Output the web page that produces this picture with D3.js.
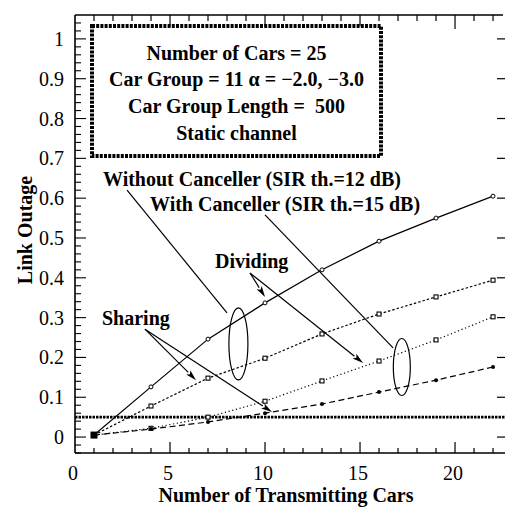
<!DOCTYPE html>
<html><head><meta charset="utf-8">
<script src="https://cdn.jsdelivr.net/npm/d3@7"></script>
<style>html,body{margin:0;padding:0;background:#fff}</style>
</head><body>
<svg id="c" width="505" height="507"></svg>
<script>
// ---- data ----
const xValues = [1, 4, 7, 10, 13, 16, 19, 22];
const withoutSharing = [0.005, 0.126, 0.246, 0.337, 0.42, 0.492, 0.55, 0.605];
const withoutDividing = [0.005, 0.078, 0.148, 0.198, 0.259, 0.309, 0.352, 0.394];
const withDividing = [0.005, 0.022, 0.05, 0.09, 0.141, 0.191, 0.244, 0.302];
const withSharing = [0.005, 0.02, 0.038, 0.06, 0.083, 0.113, 0.143, 0.176];
const threshold = 0.05;
const xTickLabels = [0, 5, 10, 15, 20];
const yTickLabels = [0, 0.1, 0.2, 0.3, 0.4, 0.5, 0.6, 0.7, 0.8, 0.9, 1];
const boxLines = ["Number of Cars = 25", "Car Group = 11 \u03b1 = \u22122.0, \u22123.0", "Car Group Length =\u00a0 500", "Static channel"];

const svg = d3.select("#c");
const L = 75, R = 505, T = 15, B = 453;
const x = d3.scaleLinear().domain([0, 22.63]).range([L, R]);
const y = d3.scaleLinear().domain([-0.04, 1.06]).range([B, T]);
const serif = "'Liberation Serif','Times New Roman',serif";

// frame lines
const g = svg.append("g").attr("stroke", "#000").attr("fill", "none");
g.append("line").attr("x1", L).attr("x2", L).attr("y1", T).attr("y2", B).attr("stroke-width", 1.6);
g.append("line").attr("x1", L).attr("x2", R).attr("y1", B).attr("y2", B).attr("stroke-width", 1.6);
g.append("line").attr("x1", L).attr("x2", R - 2).attr("y1", T).attr("y2", T).attr("stroke-width", 1.6);

// ticks
const xMinor = d3.range(1, 23);
xMinor.forEach(v => {
  const major = v % 5 === 0;
  g.append("line").attr("x1", x(v)).attr("x2", x(v)).attr("y1", B).attr("y2", B - (major ? 11 : 5)).attr("stroke-width", 1.2);
  g.append("line").attr("x1", x(v)).attr("x2", x(v)).attr("y1", T).attr("y2", T + (major ? 14 : 6)).attr("stroke-width", 1.2);
});
const yMinor = d3.range(-2, 53).map(i => i * 0.02);
yMinor.forEach(v => {
  const major = Math.abs(Math.round(v * 10) - v * 10) < 1e-6;
  g.append("line").attr("x1", L).attr("x2", L + (major ? 11 : 6)).attr("y1", y(v)).attr("y2", y(v)).attr("stroke-width", 1.1);
});
yTickLabels.forEach(v => {
  g.append("line").attr("x1", R - 8).attr("x2", R).attr("y1", y(v)).attr("y2", y(v)).attr("stroke-width", 1.2);
});

// tick labels
svg.append("g").selectAll("text").data(yTickLabels).join("text")
  .attr("x", 64).attr("y", d => y(d) + 7).attr("text-anchor", "end")
  .attr("font-family", serif).attr("font-size", 20).text(d => d);
svg.append("g").selectAll("text").data(xTickLabels).join("text")
  .attr("x", d => x(d) - 2).attr("y", 480).attr("text-anchor", "middle")
  .attr("font-family", serif).attr("font-size", 20).text(d => d);

// axis titles
svg.append("text").attr("x", 286).attr("y", 502).attr("text-anchor", "middle")
  .attr("font-family", serif).attr("font-weight", "bold").attr("font-size", 20).text("Number of Transmitting Cars");
svg.append("text").attr("transform", "translate(32,230) rotate(-90)").attr("text-anchor", "middle")
  .attr("font-family", serif).attr("font-weight", "bold").attr("font-size", 20).text("Link Outage");

// threshold
svg.append("line").attr("x1", L).attr("x2", R).attr("y1", y(threshold)).attr("y2", y(threshold))
  .attr("stroke", "#000").attr("stroke-width", 2.6).attr("stroke-dasharray", "2.5,1");

// series
const line = d3.line().x((d, i) => x(xValues[i])).y(d => y(d));
const series = [
  {v: withoutSharing, dash: null, marker: "circle"},
  {v: withoutDividing, dash: "2.5,2", marker: "square"},
  {v: withDividing, dash: "1.2,2.6", marker: "square"},
  {v: withSharing, dash: "6,3.5", marker: "dot"}
];
series.forEach(s => {
  svg.append("path").attr("d", line(s.v)).attr("fill", "none").attr("stroke", "#000")
    .attr("stroke-width", 1.2).attr("stroke-dasharray", s.dash);
  const mg = svg.append("g");
  s.v.forEach((d, i) => {
    const cx = x(xValues[i]), cy = y(d);
    if (s.marker === "circle") mg.append("circle").attr("cx", cx).attr("cy", cy).attr("r", 2).attr("fill", "#fff").attr("stroke", "#000").attr("stroke-width", 1);
    else if (s.marker === "square") mg.append("rect").attr("x", cx - 2).attr("y", cy - 2).attr("width", 4).attr("height", 4).attr("fill", "#fff").attr("stroke", "#000").attr("stroke-width", 1.1);
    else mg.append("circle").attr("cx", cx).attr("cy", cy).attr("r", 2).attr("fill", "#000");
  });
});
// overlapping start markers
svg.append("rect").attr("x", x(1) - 3.5).attr("y", y(0.005) - 3.5).attr("width", 7).attr("height", 7).attr("fill", "#000");

// info box
const bx0 = 92, bx1 = 381, by0 = 26, by1 = 156;
svg.append("rect").attr("x", bx0).attr("y", by0).attr("width", bx1 - bx0).attr("height", by1 - by0)
  .attr("fill", "#fff").attr("stroke", "#000").attr("stroke-width", 4).attr("stroke-dasharray", "3,1.2");
const boxBase = [60, 86, 113, 140];
svg.append("g").selectAll("text").data(boxLines).join("text")
  .attr("x", 236.5).attr("y", (d, i) => boxBase[i])
  .attr("text-anchor", "middle").attr("font-family", serif).attr("font-weight", "bold").attr("font-size", 20)
  .text(d => d);

// annotations
const bold = sel => sel.attr("font-family", serif).attr("font-weight", "bold").attr("font-size", 20);
bold(svg.append("text").attr("x", 103).attr("y", 186)).text("Without Canceller (SIR th.=12 dB)");
bold(svg.append("text").attr("x", 150).attr("y", 211)).text("With Canceller (SIR th.=15 dB)");
bold(svg.append("text").attr("x", 215).attr("y", 268)).text("Dividing");
bold(svg.append("text").attr("x", 102).attr("y", 325)).text("Sharing");

const ann = svg.append("g").attr("stroke", "#000").attr("fill", "none").attr("stroke-width", 1.2);
const seg = (a, b) => ann.append("line").attr("x1", x(a[0])).attr("y1", y(a[1])).attr("x2", x(b[0])).attr("y2", y(b[1]));
seg([2.74, 0.62], [8.0, 0.312]);
seg([10.0, 0.558], [16.74, 0.224]);
ann.append("ellipse").attr("cx", x(8.6)).attr("cy", y(0.234)).attr("rx", 9.5).attr("ry", 36);
ann.append("ellipse").attr("cx", x(17.2)).attr("cy", y(0.176)).attr("rx", 8.5).attr("ry", 28.5);

function arrow(a, b) {
  const x1 = x(a[0]), y1 = y(a[1]), x2 = x(b[0]), y2 = y(b[1]);
  const ang = Math.atan2(y2 - y1, x2 - x1);
  const len = 11, hw = 3;
  const bxp = x2 - len * Math.cos(ang), byp = y2 - len * Math.sin(ang);
  ann.append("line").attr("x1", x1).attr("y1", y1).attr("x2", bxp).attr("y2", byp);
  const p = [[x2, y2], [bxp + hw * Math.sin(ang), byp - hw * Math.cos(ang)], [bxp + 2.5 * Math.cos(ang), byp + 2.5 * Math.sin(ang)], [bxp - hw * Math.sin(ang), byp + hw * Math.cos(ang)]];
  svg.append("path").attr("d", "M" + p.map(q => q.join(",")).join("L") + "Z").attr("fill", "#000");
}
arrow([9.21, 0.412], [10.0, 0.352]);
arrow([9.21, 0.412], [15.16, 0.186]);
arrow([3.68, 0.271], [6.37, 0.143]);
arrow([3.68, 0.271], [10.37, 0.063]);
</script>
</body></html>
